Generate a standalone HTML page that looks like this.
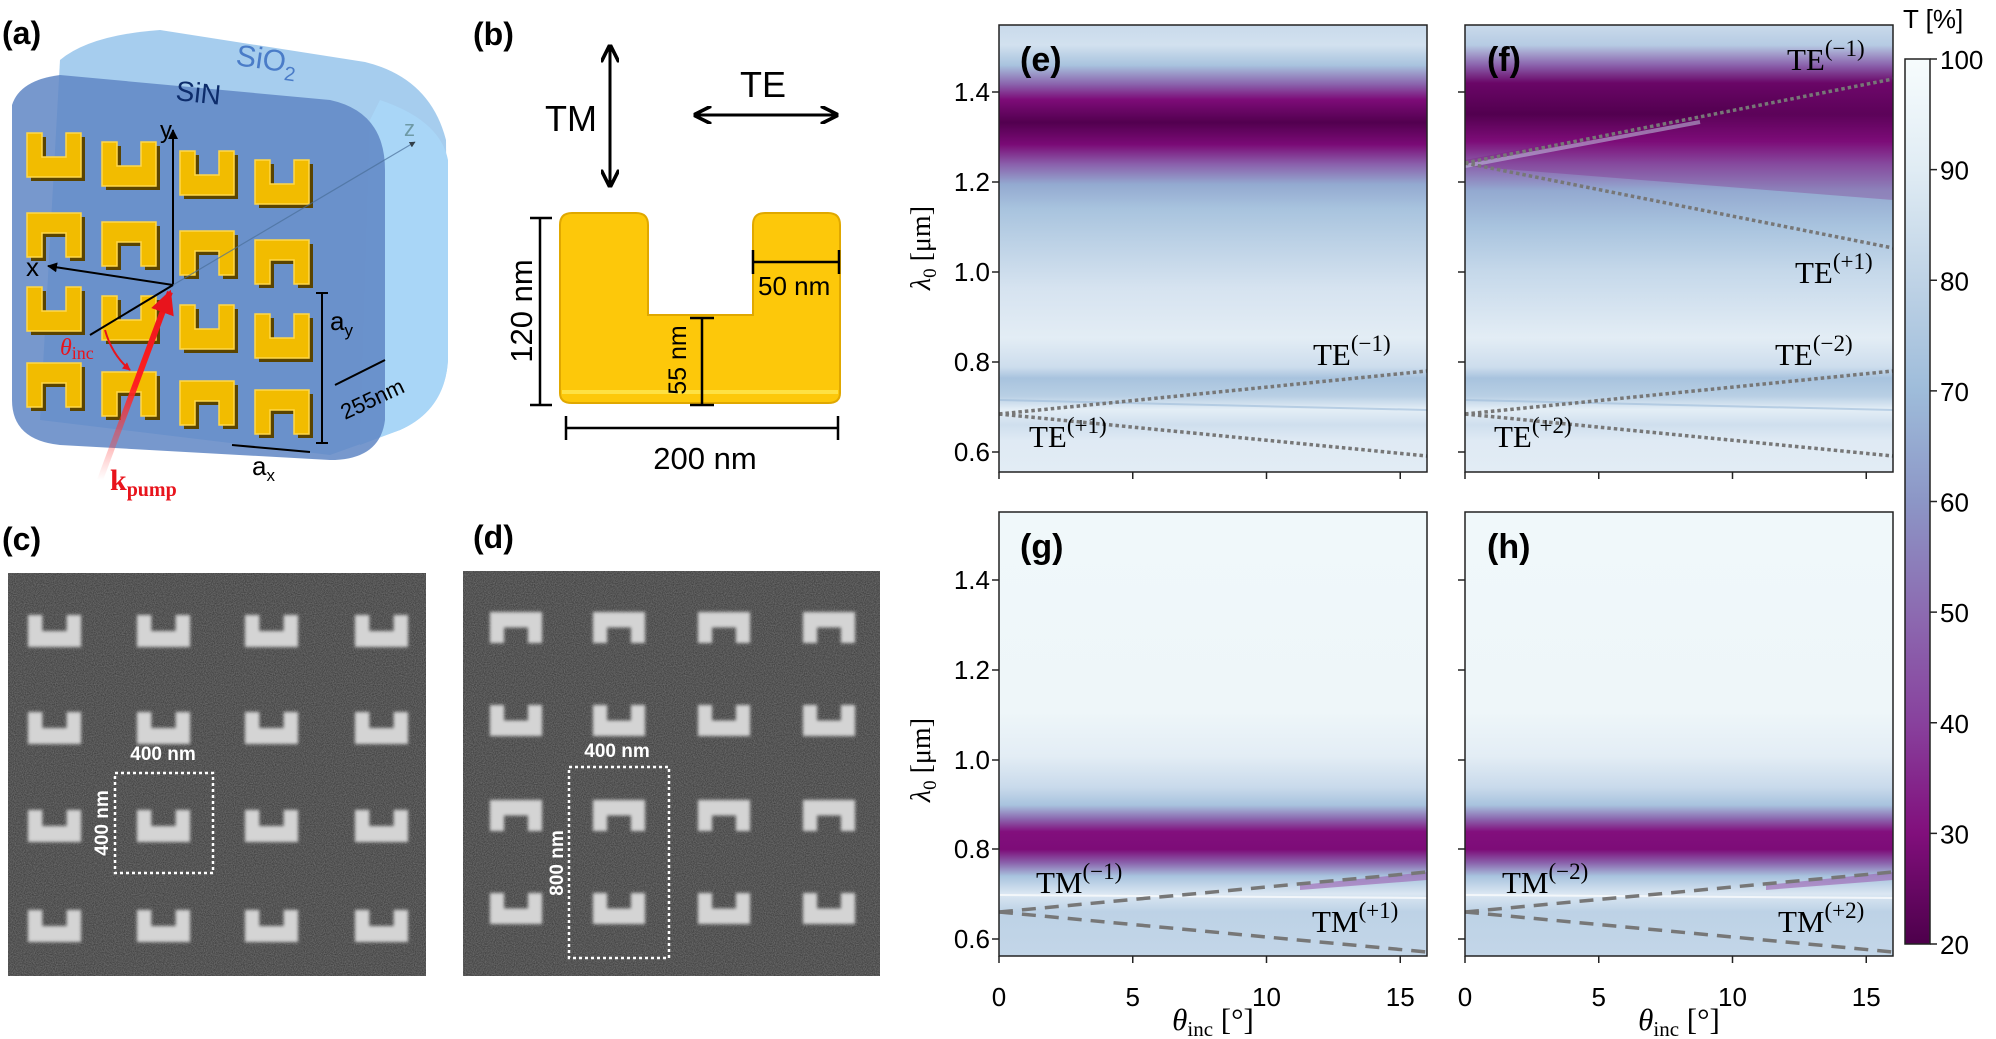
<!DOCTYPE html>
<html><head><meta charset="utf-8"><style>
html,body{margin:0;padding:0;background:#fff}
svg{display:block}
text{font-family:"Liberation Sans",sans-serif}
.m{font-family:"Liberation Serif",serif}
</style></head><body>
<svg id="s" width="1996" height="1039" viewBox="0 0 1996 1039" xmlns="http://www.w3.org/2000/svg">
<defs>
<linearGradient id="ge" x1="0" y1="0" x2="0" y2="1">
<stop offset="0" stop-color="#c9daeb"/><stop offset=".045" stop-color="#d2e1ef"/>
<stop offset=".09" stop-color="#a8c3de"/><stop offset=".133" stop-color="#8a62ac"/>
<stop offset=".167" stop-color="#7d0c78"/><stop offset=".218" stop-color="#52004f"/>
<stop offset=".267" stop-color="#7a0a76"/><stop offset=".311" stop-color="#8a5fab"/>
<stop offset=".356" stop-color="#93a9d0"/><stop offset=".411" stop-color="#a8c3de"/>
<stop offset=".49" stop-color="#bdd2e6"/><stop offset=".59" stop-color="#d6e3f0"/>
<stop offset=".70" stop-color="#e3edf5"/><stop offset=".765" stop-color="#cddded"/>
<stop offset=".79" stop-color="#a8c3de"/><stop offset=".83" stop-color="#b8cfe4"/>
<stop offset=".86" stop-color="#e4eef6"/><stop offset=".895" stop-color="#cfdfee"/>
<stop offset=".93" stop-color="#dfeaf4"/><stop offset="1" stop-color="#e2ecf5"/>
</linearGradient>
<linearGradient id="gf" x1="0" y1="0" x2="0" y2="1">
<stop offset="0" stop-color="#c9daeb"/><stop offset=".045" stop-color="#b6cbe3"/>
<stop offset=".09" stop-color="#8a62ac"/><stop offset=".13" stop-color="#6a0667"/>
<stop offset=".2" stop-color="#52004f"/><stop offset=".26" stop-color="#7d0c78"/>
<stop offset=".311" stop-color="#8a5fab"/><stop offset=".37" stop-color="#93a9d0"/>
<stop offset=".45" stop-color="#a8c3de"/><stop offset=".55" stop-color="#c5d8ea"/>
<stop offset=".70" stop-color="#e3edf5"/><stop offset=".765" stop-color="#cddded"/>
<stop offset=".79" stop-color="#a8c3de"/><stop offset=".83" stop-color="#b8cfe4"/>
<stop offset=".86" stop-color="#e4eef6"/><stop offset=".895" stop-color="#cfdfee"/>
<stop offset=".93" stop-color="#dfeaf4"/><stop offset="1" stop-color="#e2ecf5"/>
</linearGradient>
<linearGradient id="gg" x1="0" y1="0" x2="0" y2="1">
<stop offset="0" stop-color="#f0f8fa"/><stop offset=".45" stop-color="#eef6f9"/>
<stop offset=".55" stop-color="#e3edf5"/><stop offset=".62" stop-color="#c9daeb"/>
<stop offset=".66" stop-color="#a8c3de"/><stop offset=".69" stop-color="#8c6bb1"/>
<stop offset=".72" stop-color="#820f7d"/><stop offset=".76" stop-color="#7d0c78"/>
<stop offset=".79" stop-color="#8a62ac"/><stop offset=".82" stop-color="#a8c3de"/>
<stop offset=".86" stop-color="#dbe7f2"/><stop offset=".9" stop-color="#bdd2e6"/>
<stop offset="1" stop-color="#c3d6e8"/>
</linearGradient>
<linearGradient id="cb" x1="0" y1="0" x2="0" y2="1">
<stop offset="0" stop-color="#f7fcfd"/><stop offset=".125" stop-color="#e0ecf4"/>
<stop offset=".25" stop-color="#bfd3e6"/><stop offset=".375" stop-color="#9ebcda"/>
<stop offset=".5" stop-color="#8c96c6"/><stop offset=".625" stop-color="#8c6bb1"/>
<stop offset=".75" stop-color="#88419d"/><stop offset=".875" stop-color="#810f7c"/>
<stop offset="1" stop-color="#4d004b"/>
</linearGradient>
<filter id="noise" x="0" y="0" width="1" height="1">
<feTurbulence type="fractalNoise" baseFrequency="0.9" numOctaves="2" seed="3"/>
<feColorMatrix values="0 0 0 0 0.25 0 0 0 0 0.25 0 0 0 0 0.25 0 0 0 0.9 -0.1"/>
</filter>
<filter id="bl"><feGaussianBlur stdDeviation="1.5"/></filter>
<marker id="ah" viewBox="0 0 10 10" refX="8" refY="5" markerWidth="6" markerHeight="6" orient="auto-start-reverse"><path d="M0,0 L10,5 L0,10" fill="none" stroke="#000" stroke-width="2"/></marker>
<marker id="ak" viewBox="0 0 10 10" refX="9" refY="5" markerWidth="5" markerHeight="5" orient="auto"><path d="M0,0 L10,5 L0,10 z" fill="#000"/></marker>
<marker id="ar" viewBox="0 0 10 10" refX="9" refY="5" markerWidth="4" markerHeight="4" orient="auto"><path d="M0,0 L10,5 L0,10 z" fill="#e8141c"/></marker>
<linearGradient id="kr" x1="0" y1="1" x2="0" y2="0"><stop offset="0" stop-color="#ff5050" stop-opacity="0"/><stop offset=".5" stop-color="#ff2020"/><stop offset="1" stop-color="#e8141c"/></linearGradient>
</defs>

<!-- Panel (a) -->
<text x="2" y="44" font-size="32" font-weight="bold">(a)</text>
<path d="M60,60 Q90,35 160,30 L365,62 Q430,78 446,140 L448,360 Q445,410 400,430 L330,455 L40,420 Z" fill="#9cc8ec" opacity="0.9"/>
<path d="M380,100 Q440,120 448,160 L448,360 Q445,410 400,430 L360,445 L370,120 Z" fill="#a9d6f7"/>
<path d="M12,105 Q20,80 60,75 L330,100 Q385,112 385,170 L385,420 Q380,460 330,460 L60,445 Q12,440 12,400 Z" fill="#5f86c4" opacity="0.85"/>
<text x="235" y="65" font-size="30" fill="#4a7cc8" transform="rotate(8 235 65)">SiO<tspan font-size="20" dy="8">2</tspan></text>
<text x="175" y="100" font-size="28" fill="#0d2c6b" transform="rotate(6 175 100)">SiN</text>
<g id="gold"></g>
<line x1="173" y1="285" x2="173" y2="130" stroke="#000" stroke-width="2" marker-end="url(#ak)"/>
<text x="160" y="138" font-size="24">y</text>
<line x1="173" y1="285" x2="48" y2="266" stroke="#000" stroke-width="2" marker-end="url(#ak)"/>
<text x="26" y="276" font-size="26">x</text>
<line x1="173" y1="285" x2="415" y2="142" stroke="#4a6f9a" stroke-width="1.2" opacity=".7" marker-end="url(#ak)"/>
<text x="404" y="136" font-size="22" fill="#6e9aa6">z</text>
<line x1="173" y1="285" x2="90" y2="335" stroke="#000" stroke-width="2"/>
<line x1="100" y1="480" x2="170" y2="292" stroke="url(#kr)" stroke-width="6" marker-end="url(#ar)"/>
<path d="M105,330 Q112,355 130,370" fill="none" stroke="#e8141c" stroke-width="2" marker-end="url(#ar)"/>
<text x="60" y="355" font-size="24" fill="#e8141c" class="m" font-style="italic">θ<tspan font-size="18" font-style="normal" dy="4">inc</tspan></text>
<line x1="322" y1="293" x2="322" y2="443" stroke="#000" stroke-width="2"/>
<line x1="316" y1="293" x2="328" y2="293" stroke="#000" stroke-width="2"/>
<line x1="316" y1="443" x2="328" y2="443" stroke="#000" stroke-width="2"/>
<text x="330" y="330" font-size="26">a<tspan font-size="17" dy="6">y</tspan></text>
<line x1="335" y1="385" x2="385" y2="360" stroke="#000" stroke-width="2"/>
<text x="345" y="420" font-size="22" transform="rotate(-25 345 420)">255nm</text>
<line x1="232" y1="445" x2="310" y2="452" stroke="#000" stroke-width="2"/>
<text x="252" y="475" font-size="26">a<tspan font-size="17" dy="6">x</tspan></text>
<text x="110" y="490" font-size="30" fill="#e8141c" font-weight="bold" class="m">k<tspan font-size="20" dy="6">pump</tspan></text>

<!-- Panel (b) -->
<text x="473" y="45" font-size="32" font-weight="bold">(b)</text>
<line x1="610" y1="48" x2="610" y2="184" stroke="#000" stroke-width="3" marker-start="url(#ah)" marker-end="url(#ah)"/>
<text x="545" y="131" font-size="36">TM</text>
<line x1="697" y1="115" x2="835" y2="115" stroke="#000" stroke-width="3" marker-start="url(#ah)" marker-end="url(#ah)"/>
<text x="740" y="97" font-size="36">TE</text>
<path d="M572,213 H636 Q648,213 648,225 V315 H753 V225 Q753,213 765,213 H828 Q840,213 840,225 V393 Q840,403 828,403 H572 Q560,403 560,393 V225 Q560,213 572,213 Z" fill="#fdc80a" stroke="#e0a800" stroke-width="2"/>
<path d="M562,392 H838" stroke="#fff36a" stroke-width="4" opacity=".6"/>
<path d="M540,218 V405 M530,218 H552 M530,405 H552" stroke="#000" stroke-width="2.5"/>
<text x="532" y="311" font-size="31" transform="rotate(-90 532 311)" text-anchor="middle">120 nm</text>
<path d="M566,428 H838 M566,416 V440 M838,416 V440" stroke="#000" stroke-width="2.5"/>
<text x="705" y="469" font-size="31" text-anchor="middle">200 nm</text>
<path d="M702,318 V405 M690,318 H714 M690,405 H714" stroke="#000" stroke-width="2.5"/>
<text x="686" y="360" font-size="25" transform="rotate(-90 686 360)" text-anchor="middle">55 nm</text>
<path d="M753,262 H839 M753,250 V274 M839,250 V274" stroke="#000" stroke-width="2.5"/>
<text x="758" y="295" font-size="26">50 nm</text>

<!-- Panel (c),(d) -->
<text x="2" y="550" font-size="32" font-weight="bold">(c)</text>
<text x="473" y="548" font-size="32" font-weight="bold">(d)</text>
<rect x="8" y="573" width="418" height="403" fill="#3a3a3a"/>
<rect x="8" y="573" width="418" height="403" filter="url(#noise)"/>
<rect x="463" y="571" width="417" height="405" fill="#3a3a3a"/>
<rect x="463" y="571" width="417" height="405" filter="url(#noise)"/>
<g id="sem" filter="url(#bl)"></g>
<rect x="115" y="773" width="98" height="100" fill="none" stroke="#fff" stroke-width="2.5" stroke-dasharray="3,3"/>
<text x="163" y="760" font-size="19" font-weight="bold" fill="#fff" text-anchor="middle">400 nm</text>
<text x="108" y="823" font-size="19" font-weight="bold" fill="#fff" text-anchor="middle" transform="rotate(-90 108 823)">400 nm</text>
<rect x="569" y="767" width="100" height="191" fill="none" stroke="#fff" stroke-width="2.5" stroke-dasharray="3,3"/>
<text x="617" y="757" font-size="19" font-weight="bold" fill="#fff" text-anchor="middle">400 nm</text>
<text x="563" y="863" font-size="19" font-weight="bold" fill="#fff" text-anchor="middle" transform="rotate(-90 563 863)">800 nm</text>

<!-- Heatmaps -->
<rect x="999" y="25" width="428" height="447" fill="url(#ge)"/>
<rect x="1465" y="25" width="428" height="447" fill="url(#gf)"/>
<path d="M1465,160 L1893,80 L1893,200 L1465,166 Z" fill="#7d0c78" opacity=".25"/>
<line x1="1465" y1="166" x2="1700" y2="122" stroke="#c8d8ea" stroke-width="4" opacity=".5"/>
<line x1="1000" y1="400" x2="1427" y2="410" stroke="#9ebcda" stroke-width="2" opacity=".6"/>
<line x1="1466" y1="400" x2="1893" y2="410" stroke="#9ebcda" stroke-width="2" opacity=".6"/>
<rect x="999" y="512" width="428" height="444" fill="url(#gg)"/>
<rect x="1465" y="512" width="428" height="444" fill="url(#gg)"/>
<line x1="1000" y1="895" x2="1427" y2="898" stroke="#fff" stroke-width="2" opacity=".7"/>
<line x1="1466" y1="895" x2="1893" y2="898" stroke="#fff" stroke-width="2" opacity=".7"/>
<path d="M1300,885 L1427,872 L1427,880 L1300,890Z" fill="#9b5fb0" opacity=".6"/>
<path d="M1766,885 L1893,872 L1893,880 L1766,890Z" fill="#9b5fb0" opacity=".6"/>

<g stroke="#777" stroke-width="3.5" fill="none">
<g stroke-dasharray="3.5,3">
<line x1="999" y1="414" x2="1427" y2="371"/><line x1="999" y1="414" x2="1427" y2="456"/>
<line x1="1465" y1="414" x2="1893" y2="371"/><line x1="1465" y1="414" x2="1893" y2="456"/>
<line x1="1465" y1="163" x2="1893" y2="79"/><line x1="1465" y1="163" x2="1893" y2="248"/>
</g>
<g stroke-dasharray="14,9">
<line x1="999" y1="912" x2="1427" y2="872"/><line x1="999" y1="912" x2="1427" y2="952"/>
<line x1="1465" y1="912" x2="1893" y2="872"/><line x1="1465" y1="912" x2="1893" y2="952"/>
</g>
</g>

<rect x="1905" y="59" width="25" height="885" fill="url(#cb)"/>
<g fill="none" stroke="#222" stroke-width="1.5">
<rect x="999" y="25" width="428" height="447"/><rect x="1465" y="25" width="428" height="447"/>
<rect x="999" y="512" width="428" height="444"/><rect x="1465" y="512" width="428" height="444"/>
<rect x="1905" y="59" width="25" height="885"/>
</g>
<g id="ticks" stroke="#222" stroke-width="1.5"></g>

<g class="m" font-size="31">
<text x="1313" y="365" class="m">TE<tspan font-size="23" dy="-14">(−1)</tspan></text>
<text x="1029" y="447" class="m">TE<tspan font-size="23" dy="-14">(+1)</tspan></text>
<text x="1787" y="70" class="m">TE<tspan font-size="23" dy="-14">(−1)</tspan></text>
<text x="1795" y="283" class="m">TE<tspan font-size="23" dy="-14">(+1)</tspan></text>
<text x="1775" y="365" class="m">TE<tspan font-size="23" dy="-14">(−2)</tspan></text>
<text x="1494" y="447" class="m">TE<tspan font-size="23" dy="-14">(+2)</tspan></text>
<text x="1036" y="893" class="m">TM<tspan font-size="23" dy="-14">(−1)</tspan></text>
<text x="1312" y="932" class="m">TM<tspan font-size="23" dy="-14">(+1)</tspan></text>
<text x="1502" y="893" class="m">TM<tspan font-size="23" dy="-14">(−2)</tspan></text>
<text x="1778" y="932" class="m">TM<tspan font-size="23" dy="-14">(+2)</tspan></text>
</g>
<g font-size="34" font-weight="bold">
<text x="1020" y="71">(e)</text><text x="1487" y="71">(f)</text>
<text x="1020" y="558">(g)</text><text x="1487" y="558">(h)</text>
</g>
<text x="1903" y="28" font-size="26">T [%]</text>
<text class="m" font-size="28" transform="translate(930 248) rotate(-90)" text-anchor="middle"><tspan font-style="italic">λ</tspan><tspan font-size="19" dy="6">0</tspan><tspan dy="-6"> [μm]</tspan></text>
<text class="m" font-size="28" transform="translate(930 760) rotate(-90)" text-anchor="middle"><tspan font-style="italic">λ</tspan><tspan font-size="19" dy="6">0</tspan><tspan dy="-6"> [μm]</tspan></text>
<text class="m" font-size="31" x="1213" y="1030" text-anchor="middle"><tspan font-style="italic">θ</tspan><tspan font-size="21" dy="6">inc</tspan><tspan dy="-6"> [°]</tspan></text>
<text class="m" font-size="31" x="1679" y="1030" text-anchor="middle"><tspan font-style="italic">θ</tspan><tspan font-size="21" dy="6">inc</tspan><tspan dy="-6"> [°]</tspan></text>
<g id="tl" font-size="26"></g>
</svg>
<script>
var NS="http://www.w3.org/2000/svg";
function el(p,t,a,txt){var e=document.createElementNS(NS,t);for(var k in a)e.setAttribute(k,a[k]);if(txt!==undefined)e.textContent=txt;document.getElementById(p).appendChild(e);return e;}
var yt=[[92,"1.4"],[182,"1.2"],[272,"1.0"],[362,"0.8"],[452,"0.6"]];
var yt2=[[580,"1.4"],[670,"1.2"],[760,"1.0"],[849,"0.8"],[939,"0.6"]];
[999,1465].forEach(function(px,i){
 yt.forEach(function(t){el("ticks","line",{x1:px-7,x2:px,y1:t[0],y2:t[0]});if(i==0)el("tl","text",{x:990,y:t[0]+9,"text-anchor":"end"},t[1]);});
 yt2.forEach(function(t){el("ticks","line",{x1:px-7,x2:px,y1:t[0],y2:t[0]});if(i==0)el("tl","text",{x:990,y:t[0]+9,"text-anchor":"end"},t[1]);});
 [0,5,10,15].forEach(function(v){var x=px+v*26.75;el("ticks","line",{x1:x,x2:x,y1:472,y2:479});el("ticks","line",{x1:x,x2:x,y1:956,y2:963});el("tl","text",{x:x,y:1006,"text-anchor":"middle"},String(v));});
});
for(var v=20;v<=100;v+=10){var y=944-(v-20)/80*885;el("ticks","line",{x1:1930,x2:1937,y1:y,y2:y});el("tl","text",{x:1940,y:y+10},String(v));}
function U(g,x,y,w,h,inv){var a=w*0.27,b=h*0.5,d;
 if(!inv)d="M"+x+","+y+"h"+a+"v"+b+"h"+(w-2*a)+"v"+(-b)+"h"+a+"v"+h+"h"+(-w)+"z";
 else d="M"+x+","+y+"h"+w+"v"+h+"h"+(-a)+"v"+(-b)+"h"+(-(w-2*a))+"v"+b+"h"+(-a)+"z";
 el(g,"path",{d:d,fill:"#d4d4d4"});}
var cx=[28,137,245,355],cy=[615,712,810,910];
cx.forEach(function(x){cy.forEach(function(y){U("sem",x,y,53,32,false);});});
var dx=[490,593,698,803],dy=[612,705,800,893];
dx.forEach(function(x){dy.forEach(function(y,j){U("sem",x,y,52,31,j%2==0);});});
var gx=[27,102,180,255],gy=[133,213,287,363];
gx.forEach(function(x,i){gy.forEach(function(y0,j){var y=y0+i*9,w=54,h=44,a=15,b=24,inv=j%2==1,d;
 if(!inv)d="M"+x+","+y+"h"+a+"v"+b+"h"+(w-2*a)+"v"+(-b)+"h"+a+"v"+h+"h"+(-w)+"z";
 else d="M"+x+","+y+"h"+w+"v"+h+"h"+(-a)+"v"+(-b)+"h"+(-(w-2*a))+"v"+b+"h"+(-a)+"z";
 el("gold","path",{d:d,fill:"#5a4400",transform:"translate(4,4)"});
 el("gold","path",{d:d,fill:"#f2bc00",stroke:"#ffd84a","stroke-width":"1.5"});});});
</script>
</body></html>
